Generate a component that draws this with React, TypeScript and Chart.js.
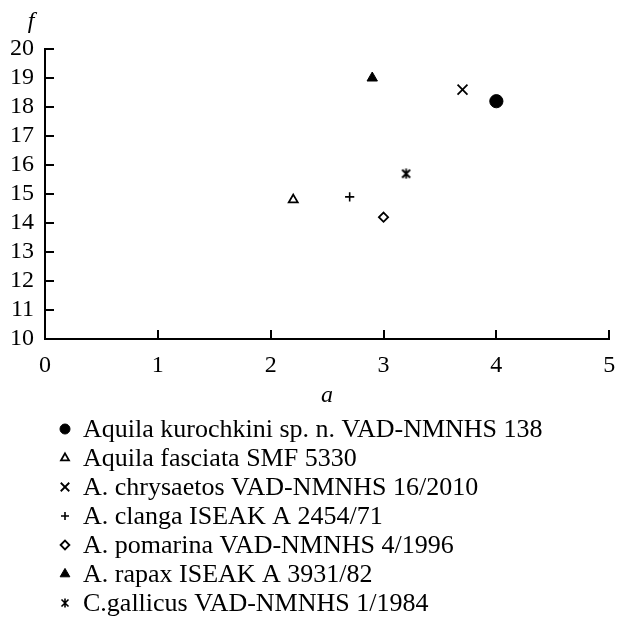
import { useEffect, useRef } from 'react';
import { Chart, registerables } from 'chart.js';
import { drawPoint } from 'chart.js/helpers';

Chart.register(...registerables);

// ---- data ----
const seriesNames = [
  'Aquila kurochkini sp. n. VAD-NMNHS 138',
  'Aquila fasciata SMF 5330',
  'A. chrysaetos VAD-NMNHS 16/2010',
  'A. clanga ISEAK A 2454/71',
  'A. pomarina VAD-NMNHS 4/1996',
  'A. rapax ISEAK A 3931/82',
  'C.gallicus VAD-NMNHS 1/1984',
];
const aValues = [4.0, 2.2, 3.7, 2.7, 3.0, 2.9, 3.2];
const fValues = [18.2, 14.8, 18.6, 14.9, 14.2, 19.0, 15.7];
const xRange = [0, 5];
const yRange = [10, 20];
const xTitle = 'a';
const yTitle = 'f';

// ---- styles ----
const FONT = "'Liberation Serif', serif";
Chart.defaults.font.family = FONT;
Chart.defaults.color = '#000';

function makeZh(size: number, lw: number): HTMLCanvasElement {
  const c = document.createElement('canvas');
  c.width = size;
  c.height = size;
  const g = c.getContext('2d')!;
  g.strokeStyle = '#000';
  g.lineWidth = lw;
  const m = 1.5;
  g.beginPath();
  g.moveTo(m, m);
  g.lineTo(size - m, size - m);
  g.moveTo(size - m, m);
  g.lineTo(m, size - m);
  g.moveTo(size / 2, 0.5);
  g.lineTo(size / 2, size - 0.5);
  g.stroke();
  return c;
}

type MarkerStyle = { style: any; r: number; fill: string; bw: number; lr: number };

export default function App() {
  const ref = useRef<HTMLCanvasElement>(null);

  useEffect(() => {
    const zhBig = makeZh(11, 1.8);
    const zhSmall = makeZh(10, 1.6);
    const markers: MarkerStyle[] = [
      { style: 'circle', r: 6.6, fill: '#000', bw: 1, lr: 5 },
      { style: 'triangle', r: 5.2, fill: '#fff', bw: 1.8, lr: 4.6 },
      { style: 'crossRot', r: 7, fill: '#000', bw: 1.8, lr: 6 },
      { style: 'cross', r: 4.6, fill: '#000', bw: 1.6, lr: 4 },
      { style: 'rectRot', r: 4.6, fill: '#fff', bw: 1.8, lr: 4.4 },
      { style: 'triangle', r: 6, fill: '#000', bw: 1, lr: 5.6 },
      { style: zhBig, r: 6, fill: '#000', bw: 1.8, lr: 5 },
    ];
    const legendStyles = [0, 1, 2, 3, 4, 5, 6].map((i) =>
      i === 6 ? zhSmall : markers[i].style
    );

    const TICK = 9;
    const axisDecor = {
      id: 'axisDecor',
      afterDraw(chart: any) {
        const { ctx, scales } = chart;
        const x = scales.x;
        const y = scales.y;
        ctx.save();
        ctx.strokeStyle = '#000';
        ctx.lineWidth = 2;
        x.ticks.forEach((_t: any, i: number) => {
          const px = Math.round(x.getPixelForTick(i));
          ctx.beginPath();
          ctx.moveTo(px, x.top);
          ctx.lineTo(px, x.top - TICK);
          ctx.stroke();
        });
        y.ticks.forEach((_t: any, i: number) => {
          const py = Math.round(y.getPixelForTick(i));
          ctx.beginPath();
          ctx.moveTo(y.right, py);
          ctx.lineTo(y.right + TICK, py);
          ctx.stroke();
        });
        // y title
        ctx.fillStyle = '#000';
        ctx.font = `italic 24px ${FONT}`;
        ctx.textAlign = 'center';
        ctx.textBaseline = 'alphabetic';
        ctx.fillText(yTitle, 31, 28);

        // legend
        const legendTop = 429;
        const rowH = 29;
        const markX = 65;
        const textX = 83;
        ctx.font = `26px ${FONT}`;
        ctx.textAlign = 'left';
        seriesNames.forEach((name, i) => {
          const cy = legendTop + i * rowH;
          const m = markers[i];
          ctx.fillStyle = m.fill;
          ctx.strokeStyle = '#000';
          ctx.lineWidth = m.bw;
          drawPoint(ctx, { pointStyle: legendStyles[i], radius: m.lr, rotation: 0, borderWidth: m.bw } as any, markX, cy);
          ctx.fillStyle = '#000';
          ctx.fillText(name, textX, cy + 8);
        });
        ctx.restore();
      },
    };

    const chart = new Chart(ref.current!, {
      type: 'scatter',
      data: {
        datasets: seriesNames.map((name, i) => ({
          label: name,
          data: [{ x: aValues[i], y: fValues[i] }],
          pointStyle: markers[i].style,
          pointRadius: markers[i].r,
          pointHoverRadius: markers[i].r,
          pointBackgroundColor: markers[i].fill,
          pointBorderColor: '#000',
          pointBorderWidth: markers[i].bw,
        })),
      },
      options: {
        animation: false,
        responsive: false,
        devicePixelRatio: 1,
        layout: { padding: { top: 49, right: 5, bottom: 210, left: 0 } },
        plugins: {
          legend: { display: false },
          tooltip: { enabled: false },
        },
        scales: {
          x: {
            type: 'linear',
            min: xRange[0],
            max: xRange[1],
            grid: { display: false, drawTicks: false },
            border: { display: true, color: '#000', width: 2 },
            ticks: {
              stepSize: 1,
              autoSkip: false,
              color: '#000',
              padding: 12,
              maxRotation: 0,
              font: { family: FONT, size: 24 },
            },
            title: {
              display: true,
              text: xTitle,
              color: '#000',
              padding: 0,
              font: { family: FONT, size: 24, style: 'italic' },
            },
            afterFit(scale: any) {
              scale.height = 71;
              scale.paddingLeft = 0;
              scale.paddingRight = 0;
            },
          },
          y: {
            type: 'linear',
            min: yRange[0],
            max: yRange[1],
            grid: { display: false, drawTicks: false },
            border: { display: true, color: '#000', width: 2 },
            ticks: {
              stepSize: 1,
              autoSkip: false,
              color: '#000',
              padding: 11,
              font: { family: FONT, size: 24 },
            },
            afterFit(scale: any) {
              scale.width = 45;
              scale.paddingTop = 0;
              scale.paddingBottom = 0;
            },
          },
        },
      },
      plugins: [axisDecor],
    });
    return () => chart.destroy();
  }, []);

  return (
    <div style={{ position: 'absolute', left: 0, top: 0, width: 618, height: 620, background: '#fff' }}>
      <canvas ref={ref} width={618} height={620} style={{ display: 'block', width: 618, height: 620 }} />
    </div>
  );
}
